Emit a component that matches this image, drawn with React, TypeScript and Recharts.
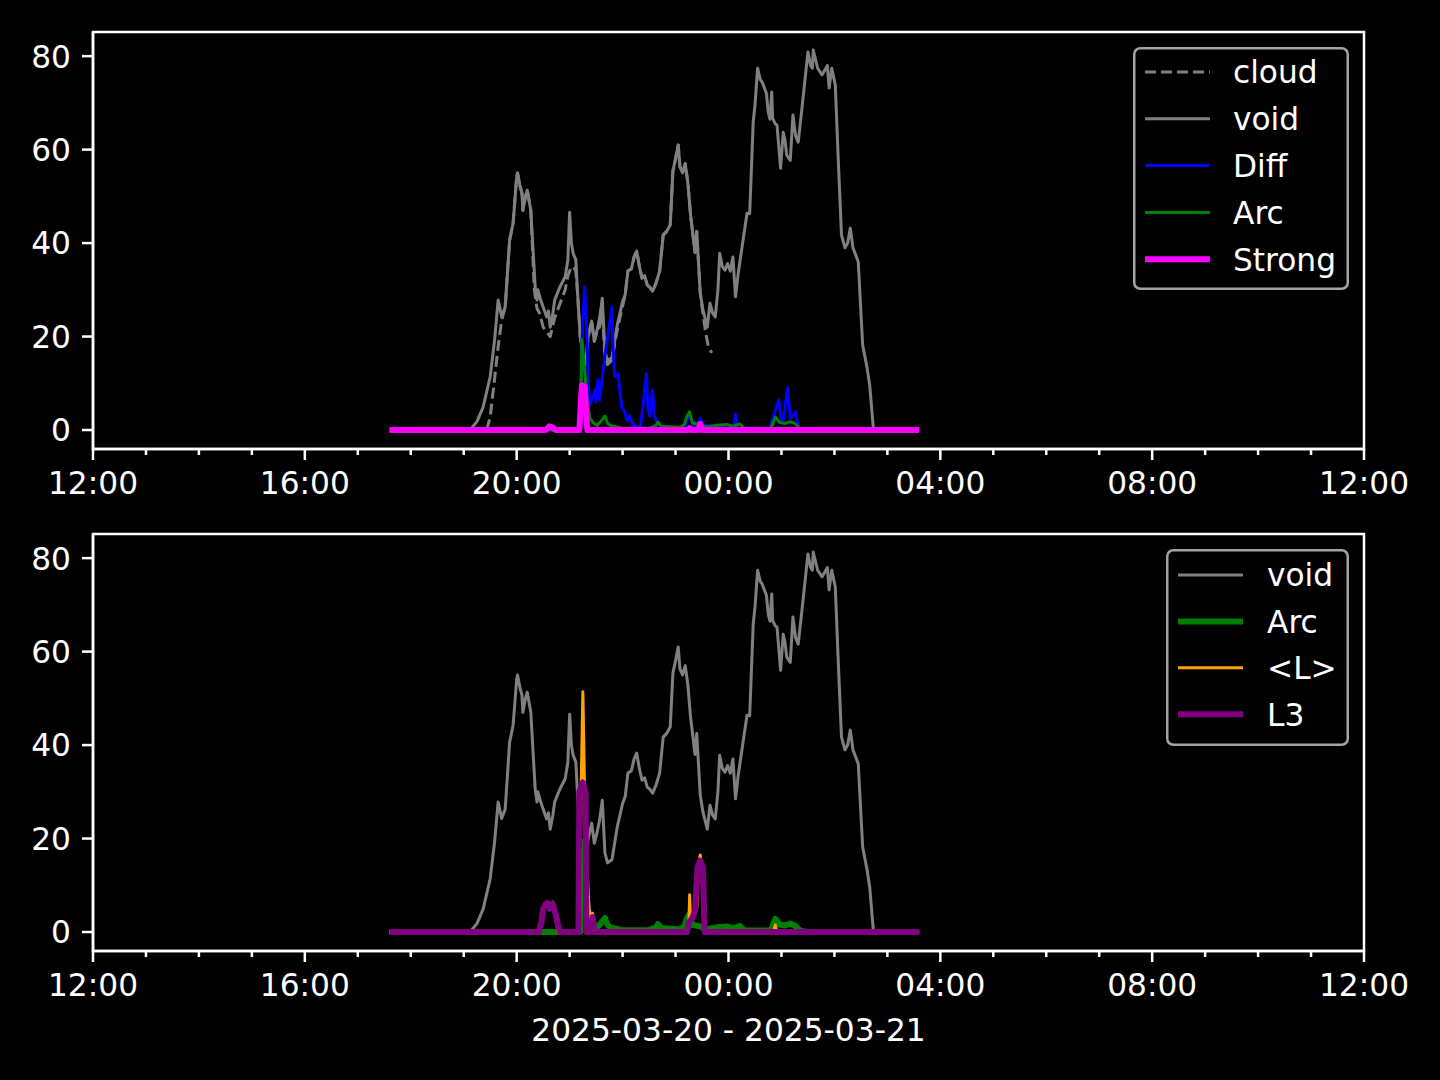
import React from 'react';
import { LineChart, Line, XAxis, YAxis, Legend, ReferenceArea } from 'recharts';

type Pt = [string, number];

// ---------- data (time of day, value) ----------
const cloudPts: Pt[] = [
  ["19:26", 0], ["19:30", 2.8], ["19:35", 11], ["19:39", 17.8], ["19:43", 23.5], ["19:47", 26.3],
  ["19:52", 40.6], ["19:56", 44.3], ["20:00", 54.1], ["20:01", 55], ["20:04", 52], ["20:06", 50.7],
  ["20:07", 47], ["20:10", 50], ["20:12", 51.3], ["20:16", 47], ["20:20", 30], ["20:23", 26],
  ["20:26", 25], ["20:30", 22], ["20:34", 21], ["20:38", 20], ["20:43", 24], ["20:49", 27],
  ["20:55", 30], ["20:58", 33], ["21:01", 34.5], ["21:04", 35], ["21:07", 34], ["21:09", 29.3],
  ["21:12", 20], ["21:15", 16], ["21:18", 14], ["21:21", 20], ["21:25", 23.3], ["21:28", 19],
  ["21:31", 21.2], ["21:34", 22], ["21:37", 25], ["21:40", 16], ["21:43", 14], ["21:48", 15],
  ["21:54", 21.5], ["22:00", 26.5], ["22:03", 29], ["22:06", 34], ["22:10", 34.5], ["22:13", 37],
  ["22:16", 38.3], ["22:19", 35], ["22:22", 32.5], ["22:25", 33], ["22:28", 31], ["22:31", 30.5],
  ["22:34", 29.7], ["22:38", 31.5], ["22:42", 34], ["22:46", 41.7], ["22:50", 42.5], ["22:54", 43.9],
  ["22:57", 55.4], ["23:00", 58], ["23:03", 61], ["23:05", 56.3], ["23:08", 55], ["23:11", 57],
  ["23:14", 52.8], ["23:17", 46], ["23:20", 41.3], ["23:22", 38], ["23:24", 42.5], ["23:28", 29.3],
  ["23:31", 25], ["23:34", 21], ["23:37", 18], ["23:41", 16.5],
];

const voidPts: Pt[] = [
  ["17:36", 0], ["19:07", 0], ["19:15", 1.8], ["19:22", 4.9], ["19:30", 11.4], ["19:35", 19.3],
  ["19:39", 27.8], ["19:43", 24.3], ["19:47", 26.3], ["19:52", 40.6], ["19:56", 44.3], ["20:00", 54.1],
  ["20:01", 55], ["20:04", 52], ["20:06", 50.7], ["20:07", 47], ["20:10", 50], ["20:12", 51.3],
  ["20:16", 47], ["20:21", 30.6], ["20:23", 27.8], ["20:24", 30], ["20:27", 28], ["20:30", 26.3],
  ["20:34", 24.2], ["20:36", 25.5], ["20:38", 22], ["20:41", 25], ["20:43", 27.8], ["20:49", 30.6],
  ["20:55", 32.8], ["20:58", 36.4], ["21:00", 46.6], ["21:02", 40], ["21:04", 37.8], ["21:07", 36.4],
  ["21:09", 29.3], ["21:12", 20], ["21:15", 16], ["21:18", 14], ["21:21", 20], ["21:25", 23.3],
  ["21:28", 19], ["21:31", 21.2], ["21:34", 24], ["21:37", 28.2], ["21:40", 16.9], ["21:43", 14.8],
  ["21:48", 15.5], ["21:54", 22.5], ["22:00", 27.5], ["22:03", 29], ["22:06", 34], ["22:10", 34.5],
  ["22:13", 37], ["22:16", 38.3], ["22:19", 35], ["22:22", 32.5], ["22:25", 33], ["22:28", 31],
  ["22:31", 30.5], ["22:34", 29.7], ["22:38", 31.5], ["22:42", 34], ["22:46", 41.7], ["22:50", 42.5],
  ["22:54", 43.9], ["22:57", 55.4], ["23:00", 58], ["23:03", 61], ["23:05", 56.3], ["23:08", 55],
  ["23:11", 57], ["23:14", 52.8], ["23:17", 46], ["23:20", 41.3], ["23:22", 38], ["23:24", 42.5],
  ["23:28", 29.3], ["23:31", 25.7], ["23:36", 22], ["23:39", 27.1], ["23:42", 25], ["23:45", 24.2],
  ["23:48", 30], ["23:50", 37.8], ["23:53", 35], ["23:56", 34.2], ["23:59", 35.6], ["00:02", 34],
  ["00:05", 37], ["00:08", 28.5], ["00:11", 33.5], ["00:16", 40], ["00:21", 46.4], ["00:24", 46.3],
  ["00:28", 65.9], ["00:30", 69.5], ["00:33", 77.4], ["00:36", 75], ["00:38", 74.5], ["00:41", 73],
  ["00:43", 72], ["00:45", 68], ["00:47", 66.5], ["00:49", 72.3], ["00:50", 66.7], ["00:53", 65.5],
  ["00:55", 65.2], ["00:59", 56], ["01:02", 63.7], ["01:04", 62], ["01:06", 58.8], ["01:10", 57.7],
  ["01:13", 67.4], ["01:16", 63], ["01:19", 61.6], ["01:24", 70.2], ["01:30", 80.9], ["01:33", 78],
  ["01:35", 77.4], ["01:36", 81.3], ["01:41", 77.4], ["01:46", 76], ["01:49", 77], ["01:52", 78],
  ["01:54", 73.2], ["01:57", 77.4], ["02:01", 73.8], ["02:04", 59.5], ["02:08", 41.7], ["02:12", 39],
  ["02:15", 40], ["02:18", 43.2], ["02:21", 39], ["02:24", 37.5], ["02:27", 36], ["02:32", 18.2],
  ["02:37", 13.3], ["02:40", 9.6], ["02:44", 0.5], ["02:45", 0], ["03:36", 0],
];

const diffPts: Pt[] = [
  ["17:36", 0], ["21:12", 0], ["21:14", 18.6], ["21:17", 30.6], ["21:19", 24], ["21:21", 10],
  ["21:23", 5.5], ["21:25", 6.4], ["21:29", 8.6], ["21:30", 6], ["21:32", 10.7], ["21:34", 6.4],
  ["21:38", 12.8], ["21:42", 18.6], ["21:46", 23.5], ["21:48", 26.3], ["21:49", 18.6], ["21:51", 11.4],
  ["21:55", 12], ["21:57", 8.3], ["21:59", 5], ["22:03", 3.6], ["22:05", 2], ["22:08", 3],
  ["22:12", 1], ["22:20", 0.5], ["22:23", 5], ["22:27", 12.1], ["22:29", 4], ["22:31", 3],
  ["22:34", 8.6], ["22:36", 3], ["22:39", 1.5], ["22:46", 0.5], ["23:10", 0.5], ["23:13", 2],
  ["23:16", 3.8], ["23:20", 1], ["23:25", 1], ["23:28", 2.5], ["23:31", 1], ["23:41", 1],
  ["23:50", 0.5], ["00:06", 0.5], ["00:08", 3.4], ["00:10", 0.5], ["00:47", 0.3], ["00:50", 2.5],
  ["00:57", 6.4], ["01:00", 2], ["01:02", 2], ["01:07", 9], ["01:10", 2.4], ["01:13", 3],
  ["01:16", 3.9], ["01:19", 0.5], ["01:24", 0], ["03:36", 0],
];

const arcPts: Pt[] = [
  ["17:36", 0], ["21:12", 0], ["21:14", 19.3], ["21:17", 12.8], ["21:20", 6], ["21:23", 2.5],
  ["21:27", 1.5], ["21:31", 1], ["21:36", 2], ["21:40", 3], ["21:43", 1.5], ["21:46", 1],
  ["22:00", 0.4], ["22:30", 0.4], ["22:38", 1], ["22:40", 1.7], ["22:44", 0.8], ["23:05", 0.6],
  ["23:10", 1.2], ["23:13", 3], ["23:16", 3.9], ["23:19", 1.5], ["23:28", 1.2], ["23:35", 0.6],
  ["23:47", 1], ["23:58", 1.2], ["00:05", 0.8], ["00:13", 1.3], ["00:18", 0.3], ["00:48", 0.3],
  ["00:53", 2.8], ["00:58", 1.6], ["01:04", 1.4], ["01:10", 1.8], ["01:15", 1.4], ["01:21", 0.3],
  ["01:30", 0], ["03:36", 0],
];

const strongPts: Pt[] = [
  ["17:36", 0], ["20:33", 0], ["20:37", 0.8], ["20:40", 0.6], ["20:44", 0], ["21:11", 0],
  ["21:13", 7], ["21:14", 9.6], ["21:17", 9.3], ["21:20", 0], ["23:14", 0], ["23:16", 0.4],
  ["23:18", 0], ["23:26", 0], ["23:28", 1.3], ["23:30", 0], ["03:36", 0],
];

const lMeanPts: Pt[] = [
  ["17:36", 0], ["20:26", 0], ["20:29", 3], ["20:32", 6], ["20:34", 6.4], ["20:37", 5.5],
  ["20:39", 6], ["20:41", 6.4], ["20:44", 3], ["20:47", 0], ["21:11", 0], ["21:13", 30],
  ["21:15", 51.4], ["21:17", 30], ["21:18", 20], ["21:20", 12.6], ["21:22", 5], ["21:24", 2.5],
  ["21:26", 4], ["21:28", 0.5], ["21:30", 0], ["23:14", 0], ["23:15", 1], ["23:16", 8],
  ["23:17", 2], ["23:19", 3], ["23:21", 4.3], ["23:24", 5], ["23:26", 14], ["23:28", 16.5],
  ["23:30", 12], ["23:32", 0], ["00:51", 0], ["00:53", 1.5], ["00:55", 0], ["03:36", 0],
];

const l3Pts: Pt[] = [
  ["17:36", 0], ["20:25", 0], ["20:28", 2], ["20:30", 5], ["20:33", 6], ["20:35", 6.2],
  ["20:37", 5], ["20:39", 6], ["20:41", 6], ["20:44", 4], ["20:47", 1.5], ["20:49", 0],
  ["21:10", 0], ["21:11", 30], ["21:15", 32], ["21:18", 30], ["21:19", 0], ["21:24", 0],
  ["21:26", 3.2], ["21:28", 0], ["23:13", 0], ["23:15", 2], ["23:19", 3], ["23:22", 4.5],
  ["23:25", 14], ["23:28", 15.3], ["23:31", 14], ["23:33", 0], ["03:36", 0],
];

const xTicks = [0, 60, 120, 180, 240, 300, 360, 420, 480, 540, 600, 660, 720, 780, 840, 900, 960, 1020, 1080, 1140, 1200, 1260, 1320, 1380, 1440];
const xMajorLabels = ["12:00", "16:00", "20:00", "00:00", "04:00", "08:00", "12:00"];
const yTicks = [0, 20, 40, 60, 80];
const xAxisTitle = "2025-03-20 - 2025-03-21";

// ---------- helpers ----------
const FF = '"DejaVu Sans", sans-serif';
const FS = 31.25;
const Y_DOMAIN: [number, number] = [-4.06, 85.16];

function toMin(s: string): number {
  const [h, m] = s.split(':').map(Number);
  let t = h * 60 + m - 720;
  if (t < 0) t += 1440;
  return t;
}
const toData = (pts: Pt[]) => pts.map(([t, v]) => ({ t: toMin(t), v }));

const XTick = (p: any) => {
  const { x, y, payload } = p;
  const v = payload.value;
  const major = v % 240 === 0;
  return (
    <g>
      <line x1={x} x2={x} y1={y} y2={y + (major ? 11 : 6)} stroke="#fff" strokeWidth={2.5} />
      {major && (
        <text x={x} y={y + 45} textAnchor="middle" fill="#fff" fontSize={FS} fontFamily={FF}>
          {xMajorLabels[v / 240]}
        </text>
      )}
    </g>
  );
};

const YTick = (p: any) => {
  const { x, y, payload } = p;
  return (
    <g>
      <line x1={x - 11} x2={x} y1={y} y2={y} stroke="#fff" strokeWidth={2.5} />
      <text x={x - 22} y={y + 11.4} textAnchor="end" fill="#fff" fontSize={FS} fontFamily={FF}>
        {payload.value}
      </text>
    </g>
  );
};

type Series = { name: string; pts: Pt[]; color: string; width: number; dash?: string };

const LegendBox = ({ items, w, h, textX, rowY0, rowStep }: { items: Series[]; w: number; h: number; textX: number; rowY0: number; rowStep: number }) => (
  <svg width={w} height={h} style={{ display: 'block' }}>
    <rect x={1.25} y={1.25} width={w - 2.5} height={h - 2.5} rx={6} ry={6} fill="#000" stroke="#a3a3a3" strokeWidth={2.5} />
    {items.map((s, i) => {
      const cy = rowY0 + i * rowStep;
      return (
        <g key={s.name}>
          <line x1={12} x2={77} y1={cy} y2={cy} stroke={s.color} strokeWidth={s.width} strokeDasharray={s.dash} />
          <text x={textX} y={cy + 11.4} fill="#fff" fontSize={FS} fontFamily={FF}>{s.name}</text>
        </g>
      );
    })}
  </svg>
);

const XTitle = (p: any) => {
  const vb = p.viewBox || {};
  return (
    <text x={vb.x + vb.width / 2} y={vb.y + 90} textAnchor="middle" fill="#fff" fontSize={FS} fontFamily={FF}>
      {xAxisTitle}
    </text>
  );
};

function Panel(props: {
  top: number; height: number; mTop: number; mBottom: number; series: Series[];
  legend: { left: number; top: number; w: number; h: number; textX: number; rowY0: number; rowStep: number };
  title?: boolean;
}) {
  const { top, height, mTop, mBottom, series, legend, title } = props;
  return (
    <div style={{ position: 'absolute', left: 0, top, width: 1440, height }}>
      <LineChart width={1440} height={height} margin={{ top: mTop, right: 76, bottom: mBottom, left: 0 }}>
        <XAxis
          type="number" dataKey="t" domain={[0, 1440]} ticks={xTicks} interval={0} allowDataOverflow
          height={40} tickSize={0} tickMargin={0} tickLine={false} tick={<XTick />}
          axisLine={{ stroke: '#fff', strokeWidth: 2.5 }}
          label={title ? <XTitle /> : undefined}
        />
        <YAxis
          type="number" domain={Y_DOMAIN} ticks={yTicks} interval={0} allowDataOverflow width={93}
          tickSize={0} tickMargin={0} tickLine={false} tick={<YTick />}
          axisLine={{ stroke: '#fff', strokeWidth: 2.5 }}
        />
        <ReferenceArea
          x1={0} x2={1440} y1={Y_DOMAIN[0]} y2={Y_DOMAIN[1]} ifOverflow="visible"
          fill="none" fillOpacity={0} stroke="#fff" strokeWidth={2.5}
        />
        {series.map((s) => (
          <Line
            key={s.name} name={s.name} data={toData(s.pts)} dataKey="v" type="linear" dot={false} activeDot={false}
            stroke={s.color} strokeWidth={s.width} strokeDasharray={s.dash} strokeLinejoin="round"
            isAnimationActive={false}
          />
        ))}
        <Legend
          layout="vertical" align="center" verticalAlign="middle"
          wrapperStyle={{ position: 'absolute', left: legend.left, top: legend.top, width: legend.w, height: legend.h, margin: 0, padding: 0 }}
          content={() => <LegendBox items={series} w={legend.w} h={legend.h} textX={legend.textX} rowY0={legend.rowY0} rowStep={legend.rowStep} />}
        />
      </LineChart>
    </div>
  );
}

const topSeries: Series[] = [
  { name: 'cloud', pts: cloudPts, color: '#808080', width: 3, dash: '11 5' },
  { name: 'void', pts: voidPts, color: '#808080', width: 3 },
  { name: 'Diff', pts: diffPts, color: '#0000ff', width: 3 },
  { name: 'Arc', pts: arcPts, color: '#008000', width: 3 },
  { name: 'Strong', pts: strongPts, color: '#ff00ff', width: 6 },
];

const bottomSeries: Series[] = [
  { name: 'void', pts: voidPts, color: '#808080', width: 3 },
  { name: 'Arc', pts: arcPts, color: '#008000', width: 6 },
  { name: '<L>', pts: lMeanPts, color: '#ffa500', width: 3 },
  { name: 'L3', pts: l3Pts, color: '#800080', width: 6 },
];

export default function App() {
  return (
    <div style={{ position: 'fixed', left: 0, top: 0, width: 1440, height: 1080, background: '#000', overflow: 'hidden' }}>
      <Panel
        top={0} height={540} mTop={32} mBottom={51} series={topSeries}
        legend={{ left: 1133, top: 47, w: 216, h: 243, textX: 100, rowY0: 25, rowStep: 46.8 }}
      />
      <Panel
        top={500} height={580} mTop={34} mBottom={89} series={bottomSeries} title
        legend={{ left: 1166, top: 49, w: 183, h: 197, textX: 101, rowY0: 26, rowStep: 46.4 }}
      />
    </div>
  );
}
